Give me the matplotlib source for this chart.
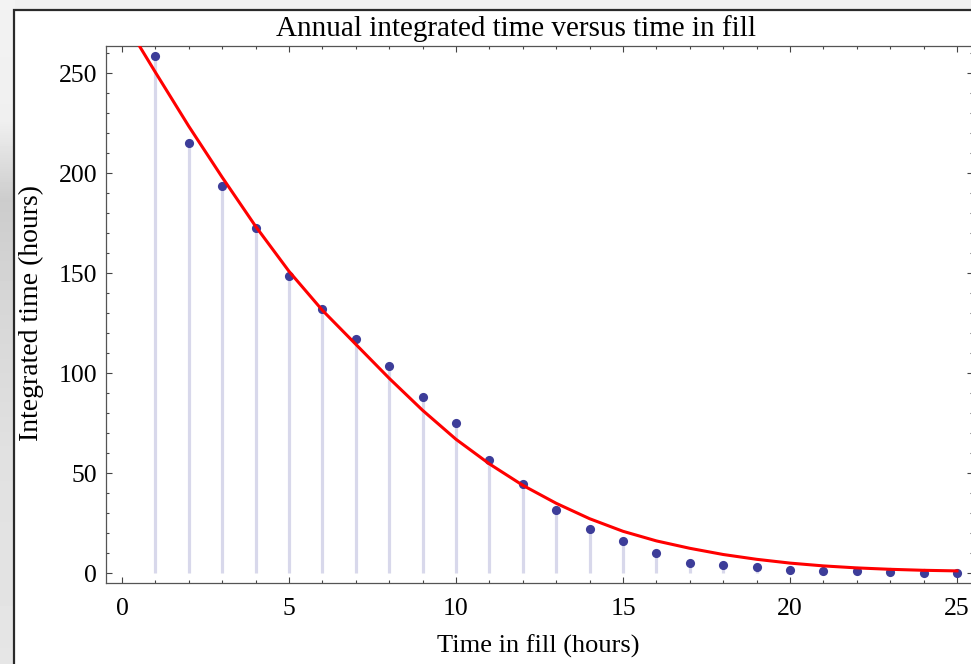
import numpy as np
import matplotlib
matplotlib.use("Agg")
import matplotlib.pyplot as plt
from matplotlib.patches import Rectangle
from matplotlib.ticker import MultipleLocator

# hours in fill and the integrated time per year
hours = [1, 2, 3, 4, 5, 6, 7, 8, 9, 10, 11, 12, 13,
         14, 15, 16, 17, 18, 19, 20, 21, 22, 23, 24, 25]
integrated = [258.5, 215, 193.4, 172.8, 148.7, 132, 117, 103.6, 88.2, 75.2,
              56.7, 44.8, 31.7, 22.1, 16.4, 10.2, 5.3, 4.4, 3.0, 1.5,
              1.0, 1.0, 0.5, 0.2, 0.2]

# red fitted curve at each hour
fit_x = [0, 1, 2, 3, 4, 5, 6, 7, 8, 9, 10, 11, 12, 13,
         14, 15, 16, 17, 18, 19, 20, 21, 22, 23, 24, 25]
fit_y = [278, 250.5, 223.5, 198, 173.5, 151, 131.5, 114.5, 97.5, 81.5, 67,
         54.7, 44, 35, 27.3, 21, 16.2, 12.5, 9.4, 7, 5.1, 3.7, 2.7, 2.0, 1.5, 1.2]

title = "Annual integrated time versus time in fill"
xlabel = "Time in fill (hours)"
ylabel = "Integrated time (hours)"

W, H = 971, 664
serif = ["Liberation Serif", "DejaVu Serif"]

fig = plt.figure(figsize=(W / 100, H / 100), dpi=100)
fig.patch.set_facecolor("#f0f0f0")

# grey screen background strip on the left
bg = fig.add_axes([0, 0, 14 / W, 1], zorder=-10)
prof = np.interp(np.arange(H), [0, 120, 200, 300, 450, 664],
                 [0.95, 0.94, 0.80, 0.84, 0.88, 0.90])
bg.imshow(np.repeat(prof[:, None], 4, axis=1), cmap="gray", vmin=0, vmax=1,
          aspect="auto", extent=[0, 1, 0, 1], origin="upper")
bg.axis("off")

# white notebook panel with black border
fig.patches.append(Rectangle((13.5 / W, -0.1), 1.2, (H - 9.5) / H + 0.1,
                             transform=fig.transFigure, fc="white",
                             ec="#2a2a2a", lw=1.6, zorder=-5))

ax = fig.add_axes([105.7 / W, 81 / H, 867 / W, 537 / H])
ax.set_facecolor("white")

ax.vlines(hours, 0, integrated, colors="#d8d8eb", lw=2.3, zorder=1)
ax.plot(hours, integrated, "o", color="#3d3d99", ms=6.6, mec="none", zorder=2)
ax.plot(fit_x, fit_y, color="#ff0000", lw=2.2, zorder=3)

ax.set_xlim(-0.488, 25.47)
ax.set_ylim(-4.85, 263.65)
ax.xaxis.set_major_locator(MultipleLocator(5))
ax.xaxis.set_minor_locator(MultipleLocator(1))
ax.yaxis.set_major_locator(MultipleLocator(50))
ax.yaxis.set_minor_locator(MultipleLocator(10))
ax.tick_params(which="both", direction="in", top=True, right=True,
               color="#444444", width=0.8, labelsize=18.5)
ax.tick_params(which="major", length=4.5)
ax.tick_params(which="minor", length=2.5)
ax.tick_params(axis="x", pad=11)
ax.tick_params(axis="y", pad=6)
for lab in ax.get_xticklabels() + ax.get_yticklabels():
    lab.set_family(serif)
for sp in ax.spines.values():
    sp.set_color("#555555")
    sp.set_linewidth(0.9)

fig.text(516 / W, (H - 29) / H, title, ha="center", va="center",
         family=serif, fontsize=21)
fig.text(538 / W, (H - 646) / H, xlabel, ha="center", va="center",
         family=serif, fontsize=19)
fig.text(31 / W, (H - 313) / H, ylabel, ha="center", va="center",
         rotation=90, family=serif, fontsize=20)

fig.savefig("out.png", dpi=100, facecolor=fig.get_facecolor())
